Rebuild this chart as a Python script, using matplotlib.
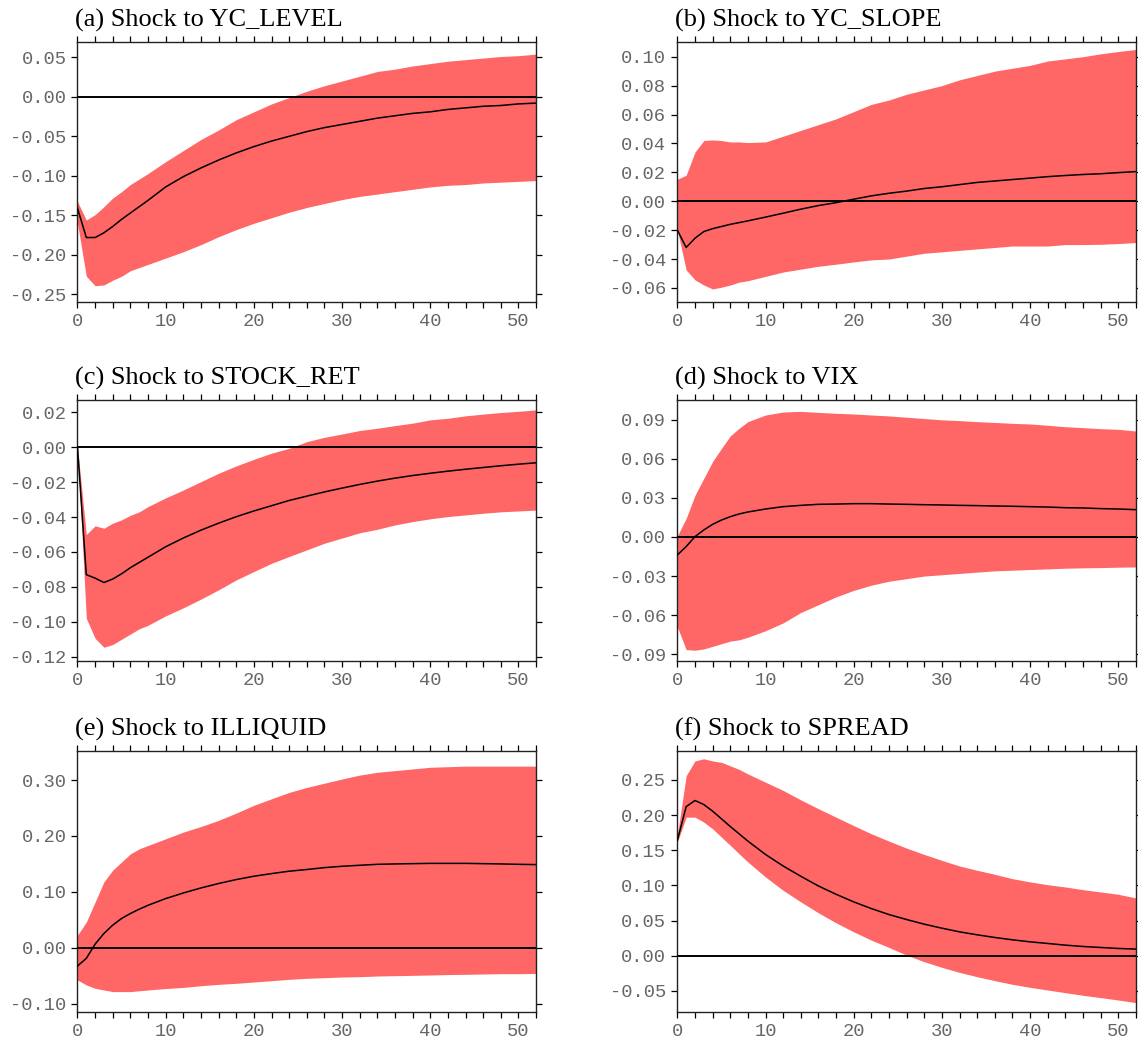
import matplotlib
matplotlib.use("Agg")
import matplotlib.pyplot as plt
from matplotlib.ticker import MultipleLocator, FuncFormatter, FixedLocator
import numpy as np

plt.rcParams['axes.unicode_minus'] = False

horizon = [0, 1, 2, 3, 4, 5, 6, 7, 8, 10, 12, 14, 16, 18, 20, 22, 24, 26, 28, 30,
           32, 34, 36, 38, 40, 42, 44, 46, 48, 50, 52]

titles = ["(a) Shock to YC_LEVEL", "(b) Shock to YC_SLOPE", "(c) Shock to STOCK_RET",
          "(d) Shock to VIX", "(e) Shock to ILLIQUID", "(f) Shock to SPREAD"]

# (a)
a_med = [-0.141, -0.178, -0.178, -0.172, -0.164, -0.155, -0.147, -0.139, -0.131, -0.114, -0.101,
         -0.090, -0.080, -0.071, -0.063, -0.056, -0.050, -0.044, -0.039, -0.035, -0.031, -0.027,
         -0.024, -0.021, -0.019, -0.016, -0.014, -0.012, -0.011, -0.009, -0.008]
a_hi = [-0.1325, -0.156, -0.149, -0.139, -0.128, -0.120, -0.111, -0.104, -0.097, -0.082, -0.068,
        -0.054, -0.042, -0.029, -0.019, -0.009, -0.001, 0.007, 0.014, 0.020, 0.026, 0.032,
        0.035, 0.039, 0.042, 0.045, 0.047, 0.049, 0.051, 0.052, 0.054]
a_lo = [-0.160, -0.227, -0.239, -0.238, -0.232, -0.227, -0.220, -0.216, -0.212, -0.204, -0.196,
        -0.187, -0.177, -0.168, -0.160, -0.153, -0.146, -0.140, -0.135, -0.130, -0.126, -0.123,
        -0.120, -0.117, -0.114, -0.112, -0.111, -0.109, -0.108, -0.107, -0.106]
# (b)
b_med = [-0.020, -0.032, -0.0256, -0.021, -0.019, -0.0175, -0.016, -0.0148, -0.0136, -0.011,
         -0.0083, -0.0055, -0.003, -0.001, 0.0014, 0.0037, 0.0055, 0.007, 0.0088, 0.010, 0.0115,
         0.013, 0.014, 0.015, 0.016, 0.017, 0.0178, 0.0185, 0.019, 0.0198, 0.0205]
b_hi = [0.0152, 0.018, 0.034, 0.042, 0.0424, 0.042, 0.041, 0.041, 0.0406, 0.041, 0.045, 0.049,
        0.053, 0.057, 0.062, 0.067, 0.070, 0.074, 0.077, 0.080, 0.084, 0.087, 0.090, 0.092,
        0.094, 0.097, 0.0985, 0.100, 0.102, 0.1036, 0.105]
b_lo = [-0.0198, -0.0475, -0.0544, -0.058, -0.0607, -0.0595, -0.058, -0.056, -0.055, -0.052,
        -0.049, -0.047, -0.045, -0.0436, -0.042, -0.0406, -0.040, -0.038, -0.036, -0.035,
        -0.034, -0.033, -0.032, -0.031, -0.031, -0.031, -0.030, -0.030, -0.0298, -0.0293, -0.0286]
# (c)
c_med = [0.0, -0.073, -0.075, -0.0775, -0.0755, -0.0725, -0.069, -0.066, -0.063, -0.057,
         -0.052, -0.0475, -0.0435, -0.0398, -0.0365, -0.0335, -0.0305, -0.028, -0.0256,
         -0.0234, -0.0213, -0.0194, -0.0177, -0.0162, -0.0149, -0.0137, -0.0126, -0.0116,
         -0.0106, -0.0097, -0.0089]
c_hi = [0.0, -0.050, -0.045, -0.0464, -0.0435, -0.0416, -0.039, -0.037, -0.034, -0.029, -0.0245,
        -0.0197, -0.0149, -0.0107, -0.0069, -0.0034, -0.0006, 0.0032, 0.0057, 0.0076, 0.0096,
        0.0109, 0.0124, 0.0138, 0.0157, 0.0166, 0.018, 0.019, 0.0199, 0.0206, 0.0214]
c_lo = [0.0, -0.098, -0.1095, -0.1146, -0.113, -0.110, -0.107, -0.104, -0.102, -0.0966, -0.092,
        -0.087, -0.0817, -0.076, -0.0712, -0.0665, -0.0626, -0.0588, -0.055, -0.052, -0.049,
        -0.047, -0.0445, -0.0426, -0.041, -0.0397, -0.0388, -0.0378, -0.037, -0.0365, -0.036]
# (d)
d_med = [-0.0138, -0.0074, 0.0003, 0.0054, 0.0097, 0.013, 0.0156, 0.0177, 0.0192, 0.0215,
         0.0233, 0.0243, 0.0251, 0.0253, 0.0256, 0.0256, 0.0253, 0.0251, 0.0248, 0.0246, 0.0243,
         0.0241, 0.0238, 0.0236, 0.0233, 0.023, 0.0225, 0.0223, 0.0218, 0.0215, 0.021]
d_hi = [0.0008, 0.0143, 0.032, 0.045, 0.058, 0.068, 0.0776, 0.0835, 0.0886, 0.0937, 0.096,
        0.0965, 0.0957, 0.095, 0.0945, 0.0937, 0.093, 0.092, 0.091, 0.090, 0.0894, 0.0886,
        0.088, 0.0873, 0.0868, 0.0858, 0.0847, 0.084, 0.0832, 0.0827, 0.0814]
d_lo = [-0.069, -0.0865, -0.087, -0.086, -0.084, -0.082, -0.080, -0.079, -0.077, -0.072, -0.066,
        -0.058, -0.052, -0.046, -0.041, -0.037, -0.034, -0.032, -0.030, -0.029, -0.028, -0.027,
        -0.026, -0.0255, -0.025, -0.0245, -0.024, -0.0237, -0.0235, -0.0232, -0.023]
# (e)
e_med = [-0.0327, -0.019, 0.0065, 0.0256, 0.0405, 0.0524, 0.0613, 0.069, 0.076, 0.088, 0.098,
         0.107, 0.115, 0.122, 0.128, 0.1327, 0.137, 0.140, 0.1434, 0.1458, 0.1476, 0.1493,
         0.150, 0.1505, 0.151, 0.151, 0.151, 0.1505, 0.150, 0.1493, 0.1488]
e_hi = [0.0226, 0.046, 0.082, 0.118, 0.139, 0.1535, 0.168, 0.177, 0.183, 0.195, 0.207, 0.217,
        0.228, 0.241, 0.255, 0.2666, 0.278, 0.287, 0.2945, 0.302, 0.309, 0.314, 0.317, 0.320,
        0.323, 0.324, 0.325, 0.325, 0.325, 0.325, 0.325]
e_lo = [-0.0577, -0.0666, -0.0726, -0.0756, -0.0785, -0.0785, -0.0785, -0.077, -0.0756, -0.073,
        -0.071, -0.068, -0.0655, -0.0637, -0.0613, -0.059, -0.0565, -0.0547, -0.0536, -0.0524,
        -0.0518, -0.0506, -0.050, -0.0494, -0.0488, -0.048, -0.0476, -0.047, -0.0464, -0.0464,
        -0.046]
# (f)
f_med = [0.164, 0.212, 0.2207, 0.215, 0.2056, 0.1947, 0.1838, 0.1734, 0.163, 0.144, 0.1276,
         0.113, 0.0992, 0.0874, 0.0766, 0.0671, 0.0586, 0.0515, 0.0449, 0.0392, 0.034, 0.0298,
         0.026, 0.0227, 0.0198, 0.0175, 0.0151, 0.0132, 0.0118, 0.0104, 0.0095]
f_hi = [0.171, 0.256, 0.277, 0.280, 0.277, 0.275, 0.270, 0.265, 0.2585, 0.2467, 0.235, 0.2216,
        0.209, 0.197, 0.185, 0.1734, 0.163, 0.153, 0.144, 0.1356, 0.1276, 0.1215, 0.1158,
        0.1096, 0.105, 0.101, 0.0978, 0.094, 0.0907, 0.0874, 0.0822]
f_lo = [0.1616, 0.197, 0.197, 0.190, 0.1805, 0.1687, 0.157, 0.145, 0.1333, 0.112, 0.093, 0.0766,
        0.061, 0.0468, 0.034, 0.0222, 0.0118, 0.0009, -0.0085, -0.0165, -0.0236, -0.0298,
        -0.0354, -0.0406, -0.0449, -0.0487, -0.0525, -0.0562, -0.0595, -0.0629, -0.0666]

medians = [a_med, b_med, c_med, d_med, e_med, f_med]
uppers = [a_hi, b_hi, c_hi, d_hi, e_hi, f_hi]
lowers = [a_lo, b_lo, c_lo, d_lo, e_lo, f_lo]

y_limits = [(-0.2595, 0.069), (-0.0697, 0.110), (-0.1225, 0.0269),
            (-0.0953, 0.105), (-0.1156, 0.352), (-0.0804, 0.291)]
y_ticks = [np.arange(-0.25, 0.051, 0.05), np.arange(-0.06, 0.101, 0.02),
           np.arange(-0.12, 0.021, 0.02), np.arange(-0.09, 0.091, 0.03),
           np.arange(-0.10, 0.301, 0.10), np.arange(-0.05, 0.251, 0.05)]

fig = plt.figure(figsize=(11.38, 10.43), dpi=100)

col_x = [0.0681, 0.5952]
col_w = 0.4030
rows = [(0.7105, 0.249), (0.3662, 0.250), (0.0294, 0.2505)]

band_color = '#FF6666'
tick_color = '#666666'

for k in range(6):
    r, c = divmod(k, 2)
    ax = fig.add_axes([col_x[c], rows[r][0], col_w, rows[r][1]])
    x = np.array(horizon, dtype=float)
    ax.fill_between(x, lowers[k], uppers[k], color=band_color, lw=0, antialiased=True)
    ax.axhline(0, color='black', lw=1.4, zorder=3)
    ax.plot(x, medians[k], color='black', lw=1.1, zorder=4)
    ax.set_xlim(0, 52)
    ax.set_ylim(*y_limits[k])
    ax.xaxis.set_major_locator(MultipleLocator(2))
    ax.xaxis.set_major_formatter(FuncFormatter(
        lambda v, p: f"{int(round(v))}" if int(round(v)) % 10 == 0 else ""))
    ax.yaxis.set_major_locator(FixedLocator(y_ticks[k]))
    ax.yaxis.set_major_formatter(FuncFormatter(
        lambda v, p: f"{v:.2f}" if abs(v) > 1e-9 else "0.00"))
    ax.tick_params(axis='both', which='both', direction='out', length=4.5, width=0.9,
                   color='black', labelcolor=tick_color, top=True, right=True,
                   labelsize=13.5, pad=3.5)
    for lab in ax.get_xticklabels() + ax.get_yticklabels():
        lab.set_fontfamily('Liberation Mono')
    for sp in ax.spines.values():
        sp.set_linewidth(1.0)
        sp.set_color('#222222')
    ax.annotate(titles[k], xy=(0, 1), xycoords='axes fraction', xytext=(-2, 11),
                textcoords='offset points', ha='left', va='baseline',
                fontsize=19, family='Liberation Serif', color='black')

fig.savefig('out.png', dpi=100)
